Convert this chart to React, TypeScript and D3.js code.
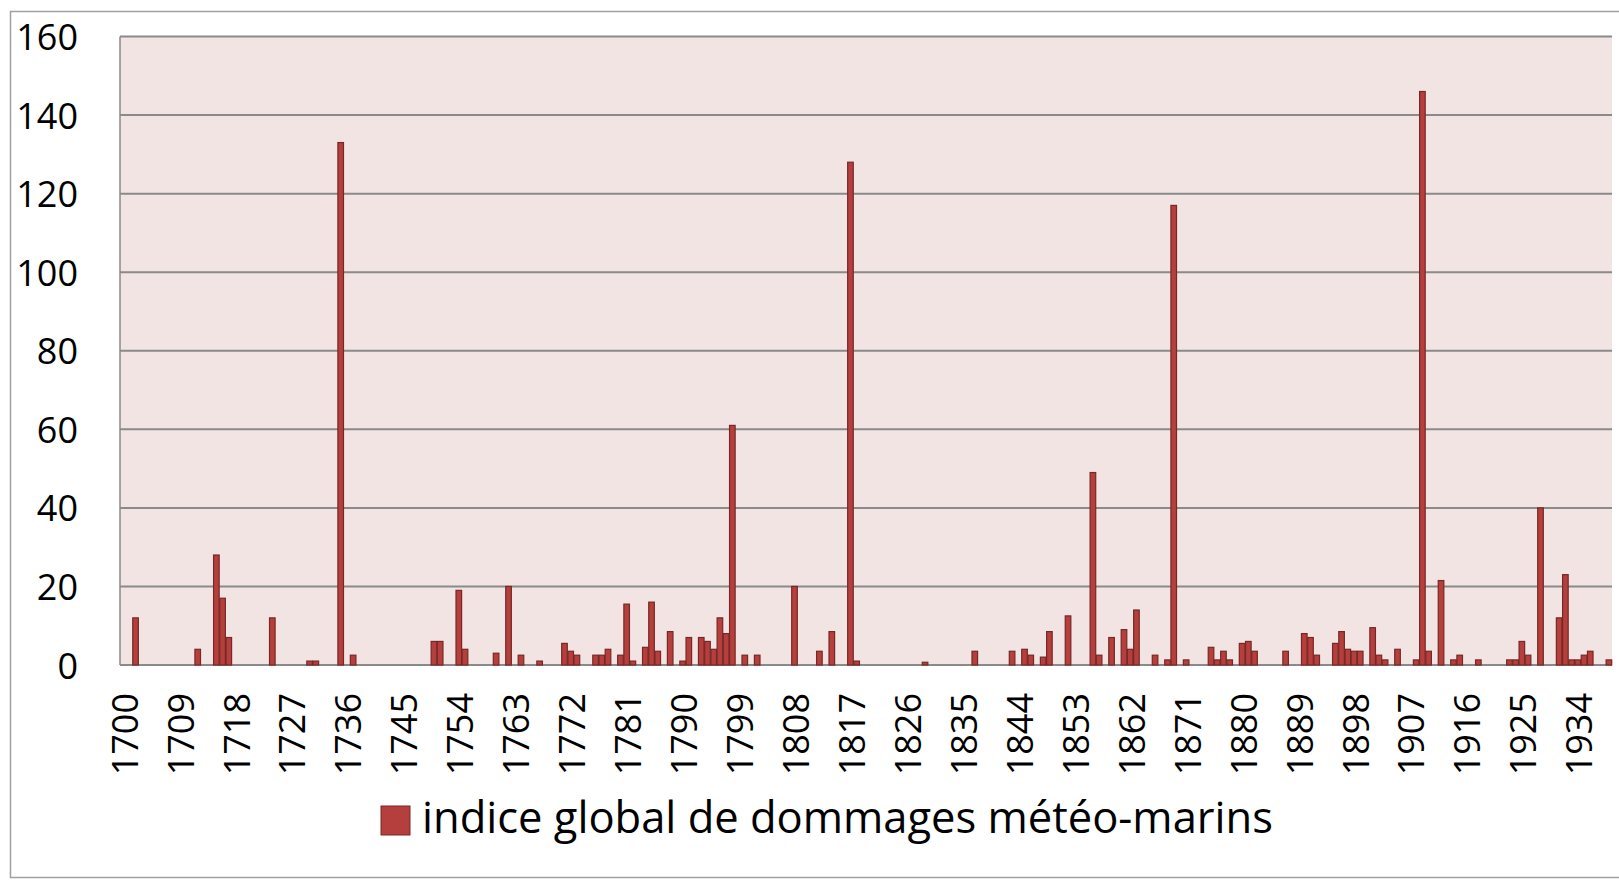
import React, { useEffect, useRef } from "react";
import * as d3 from "d3";

// years that have a non-zero damage index, and their values
const eventYears = [
  1702, 1712, 1715, 1716, 1717, 1724, 1730, 1731, 1735, 1737,
  1750, 1751, 1754, 1755, 1760, 1762, 1764, 1767, 1771, 1772,
  1773, 1776, 1777, 1778, 1780, 1781, 1782, 1784, 1785, 1786,
  1788, 1790, 1791, 1793, 1794, 1795, 1796, 1797, 1798, 1800,
  1802, 1808, 1812, 1814, 1817, 1818, 1829, 1837, 1843, 1845,
  1846, 1848, 1849, 1852, 1856, 1857, 1859, 1861, 1862, 1863,
  1866, 1868, 1869, 1871, 1875, 1876, 1877, 1878, 1880, 1881,
  1882, 1887, 1890, 1891, 1892, 1895, 1896, 1897, 1898, 1899,
  1901, 1902, 1903, 1905, 1908, 1909, 1910, 1912, 1914, 1915,
  1918, 1923, 1924, 1925, 1926, 1928, 1931, 1932, 1933, 1934,
  1935, 1936, 1939,
];
const damageIndex = [
  12, 4, 28, 17, 7, 12, 1, 1, 133, 2.5,
  6, 6, 19, 4, 3, 20, 2.5, 1, 5.5, 3.5,
  2.5, 2.5, 2.5, 4, 2.5, 15.5, 1, 4.5, 16, 3.5,
  8.5, 1, 7, 7, 6, 4, 12, 8, 61, 2.5,
  2.5, 20, 3.5, 8.5, 128, 1, 0.7, 3.5, 3.5, 4,
  2.5, 2, 8.5, 12.5, 49, 2.5, 7, 9, 4, 14,
  2.5, 1.3, 117, 1.3, 4.5, 1.3, 3.5, 1.3, 5.5, 6,
  3.5, 3.5, 8, 7, 2.5, 5.5, 8.5, 4, 3.5, 3.5,
  9.5, 2.5, 1.3, 4, 1.3, 146, 3.5, 21.5, 1.3, 2.5,
  1.3, 1.3, 1.3, 6, 2.5, 40, 12, 23, 1.3, 1.3,
  2.5, 3.5, 1.3,
];
const firstYear = 1700;
const lastYear = 1939;
const tickYears = [
  1700, 1709, 1718, 1727, 1736, 1745, 1754, 1763, 1772, 1781, 1790,
  1799, 1808, 1817, 1826, 1835, 1844, 1853, 1862, 1871, 1880, 1889,
  1898, 1907, 1916, 1925, 1934,
];
const yTicks = [0, 20, 40, 60, 80, 100, 120, 140, 160];
const seriesName = "indice global de dommages météo-marins";

const W = 1619;
const H = 881;
const FONT = "'Open Sans', sans-serif";

const App = () => {
  const svgRef = useRef<SVGSVGElement>(null);

  useEffect(() => {
    const svg = d3.select(svgRef.current);
    svg.selectAll("*").remove();

    const left = 120, right = 1612, top = 36.5, bottom = 665;

    const years = d3.range(firstYear, lastYear + 1).map(String);
    const x = d3
      .scaleBand()
      .domain(years)
      .range([left, right])
      .paddingInner(0.1)
      .paddingOuter(0.05);
    const y = d3.scaleLinear().domain([0, 160]).range([bottom, top]);

    // chart border
    svg
      .append("rect")
      .attr("x", 10.5)
      .attr("y", 11.5)
      .attr("width", W)
      .attr("height", 866)
      .attr("fill", "#ffffff")
      .attr("stroke", "#a0a0a0")
      .attr("stroke-width", 1.5);

    // plot area
    svg
      .append("rect")
      .attr("x", left)
      .attr("y", top)
      .attr("width", right - left)
      .attr("height", bottom - top)
      .attr("fill", "#f3e4e4");

    // gridlines
    svg
      .append("g")
      .selectAll("line")
      .data(yTicks)
      .enter()
      .append("line")
      .attr("x1", left)
      .attr("x2", right)
      .attr("y1", (d) => y(d))
      .attr("y2", (d) => y(d))
      .attr("stroke", "#8a8a8a")
      .attr("stroke-width", 2);

    svg
      .append("line")
      .attr("x1", left)
      .attr("x2", left)
      .attr("y1", top)
      .attr("y2", bottom)
      .attr("stroke", "#8a8a8a")
      .attr("stroke-width", 1.5);

    // bars
    svg
      .append("g")
      .selectAll("rect")
      .data(eventYears.map((yr, i) => ({ yr, v: damageIndex[i] })))
      .enter()
      .append("rect")
      .attr("x", (d) => x(String(d.yr)))
      .attr("y", (d) => y(d.v))
      .attr("width", x.bandwidth())
      .attr("height", (d) => bottom - y(d.v))
      .attr("fill", "#b53f3c")
      .attr("stroke", "#772826")
      .attr("stroke-width", 1.2);

    // y labels
    svg
      .append("g")
      .selectAll("text")
      .data(yTicks)
      .enter()
      .append("text")
      .attr("x", 78)
      .attr("y", (d) => y(d))
      .attr("text-anchor", "end")
      .attr("dominant-baseline", "central")
      .style("font-family", FONT)
      .style("font-size", "36px")
      .attr("fill", "#000")
      .text((d) => d);

    // x labels (rotated)
    svg
      .append("g")
      .selectAll("text")
      .data(tickYears)
      .enter()
      .append("text")
      .attr(
        "transform",
        (d) => `translate(${x(String(d))! + x.bandwidth() / 2 + 1}, 693) rotate(-90)`
      )
      .attr("text-anchor", "end")
      .attr("dominant-baseline", "central")
      .style("font-family", FONT)
      .style("font-size", "36px")
      .attr("fill", "#000")
      .text((d) => d);

    // legend
    const legend = svg.append("g");
    legend
      .append("rect")
      .attr("x", 381)
      .attr("y", 806)
      .attr("width", 29)
      .attr("height", 29)
      .attr("fill", "#b53f3c")
      .attr("stroke", "#772826")
      .attr("stroke-width", 1);
    legend
      .append("text")
      .attr("x", 422)
      .attr("y", 833)
      .style("font-family", FONT)
      .style("font-size", "43.5px")
      .attr("fill", "#000")
      .text(seriesName);
  }, []);

  return (
    <svg
      ref={svgRef}
      width={W}
      height={H}
      style={{ position: "absolute", left: 0, top: 0 }}
    />
  );
};

export default App;
